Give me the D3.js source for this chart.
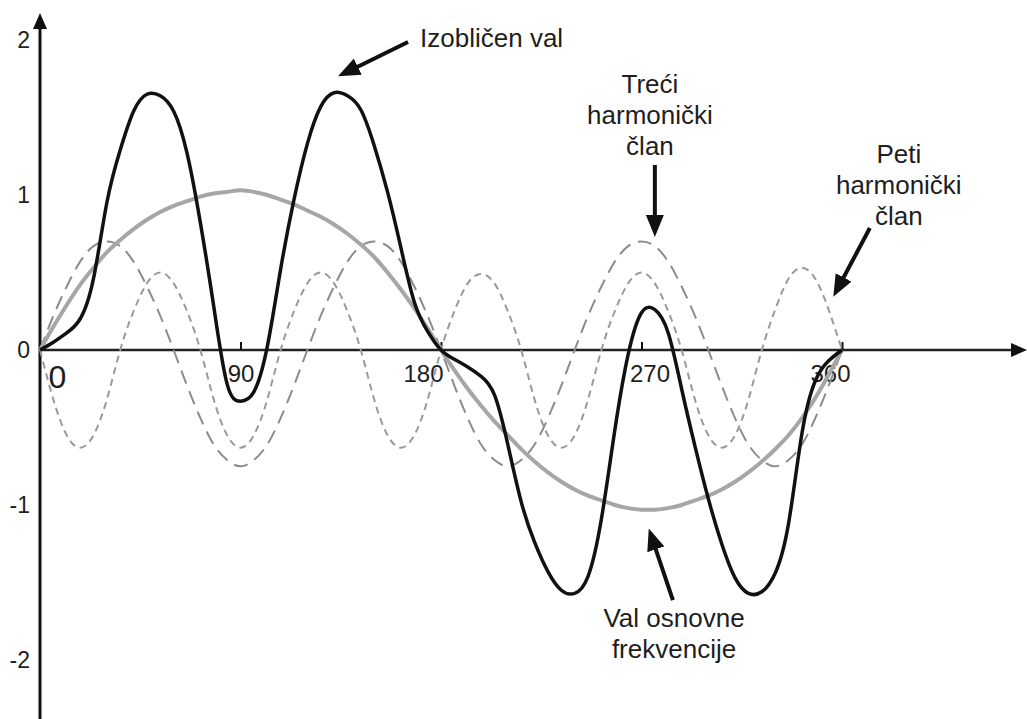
<!DOCTYPE html>
<html>
<head>
<meta charset="utf-8">
<script src="https://cdn.jsdelivr.net/npm/d3@7"></script>
<style>
  body { margin: 0; background: #fff; }
  text { font-family: "Liberation Sans", Arial, sans-serif; fill: #1e1e1e; }
</style>
</head>
<body>
<div id="chart"></div>
<script>
// angle in degrees, sampled every 6 deg
const degrees = d3.range(0, 361, 6);

// Val osnovne frekvencije (grey, solid)
const fundamental = [
  0, 0.15, 0.29, 0.42, 0.53, 0.63, 0.71, 0.78, 0.84, 0.89, 0.93,
  0.96, 0.99, 1.01, 1.02, 1.03, 1.02, 1.00, 0.97, 0.94, 0.90,
  0.86, 0.81, 0.75, 0.68, 0.60, 0.50, 0.39, 0.27, 0.14, 0,
  -0.13, -0.25, -0.36, -0.46, -0.55, -0.64, -0.72, -0.79, -0.85, -0.90,
  -0.94, -0.97, -1.00, -1.02, -1.03, -1.03, -1.02, -1.00, -0.97, -0.94,
  -0.90, -0.85, -0.79, -0.72, -0.64, -0.55, -0.44, -0.31, -0.16, 0
];

// Treci harmonicki clan (long dashes)
const thirdHarmonic = [
  0, 0.22, 0.41, 0.57, 0.67, 0.70, 0.67, 0.57, 0.41, 0.22, 0,
  -0.23, -0.44, -0.61, -0.71, -0.75, -0.71, -0.61, -0.44, -0.23, 0,
  0.22, 0.41, 0.57, 0.67, 0.70, 0.67, 0.57, 0.41, 0.22, 0,
  -0.23, -0.44, -0.61, -0.71, -0.75, -0.71, -0.61, -0.44, -0.23, 0,
  0.22, 0.41, 0.57, 0.67, 0.70, 0.67, 0.57, 0.41, 0.22, 0,
  -0.23, -0.44, -0.61, -0.71, -0.75, -0.71, -0.61, -0.44, -0.23, 0
];

// Peti harmonicki clan (short dashes)
const fifthHarmonic = [
  0, -0.32, -0.55, -0.63, -0.55, -0.32, 0, 0.25, 0.43, 0.50, 0.43,
  0.25, 0, -0.32, -0.55, -0.63, -0.55, -0.32, 0, 0.25, 0.43,
  0.50, 0.43, 0.25, 0, -0.32, -0.55, -0.63, -0.55, -0.32, 0,
  0.25, 0.43, 0.49, 0.43, 0.25, 0, -0.32, -0.55, -0.63, -0.55,
  -0.32, 0, 0.25, 0.43, 0.50, 0.43, 0.25, 0, -0.32, -0.55,
  -0.63, -0.55, -0.32, 0, 0.26, 0.46, 0.53, 0.46, 0.26, 0
];

// Izobliceni val (black)
const distorted = [
  0, 0.05, 0.11, 0.20, 0.46, 0.95, 1.29, 1.54, 1.65, 1.64, 1.54,
  1.27, 0.82, 0.28, -0.22, -0.33, -0.27, 0.02, 0.52, 0.97, 1.33,
  1.57, 1.66, 1.64, 1.55, 1.32, 1.02, 0.66, 0.31, 0.12, 0,
  -0.06, -0.11, -0.17, -0.29, -0.61, -0.98, -1.24, -1.43, -1.55, -1.57,
  -1.46, -1.09, -0.52, -0.03, 0.24, 0.26, 0.11, -0.25, -0.62, -0.96,
  -1.25, -1.47, -1.57, -1.56, -1.44, -1.12, -0.54, -0.20, -0.07, 0
];

const xTicks = [0, 90, 180, 270, 360];
const yTicks = [-2, -1, 0, 1, 2];

const width = 1027, height = 719;

const svg = d3.select('#chart').append('svg')
    .attr('width', width)
    .attr('height', height);

const x = d3.scaleLinear().domain([0, 360]).range([40, 842]);
const y = d3.scaleLinear().domain([-2, 2]).range([660, 40]);

// arrow head markers
const defs = svg.append('defs');
function addMarker(id, w, h) {
  defs.append('marker')
      .attr('id', id)
      .attr('viewBox', `0 0 ${w} ${h}`)
      .attr('markerUnits', 'userSpaceOnUse')
      .attr('markerWidth', w)
      .attr('markerHeight', h)
      .attr('refX', w - 10)
      .attr('refY', h / 2)
      .attr('orient', 'auto')
    .append('path')
      .attr('d', `M0,0L${w},${h / 2}L0,${h}Z`)
      .attr('fill', '#111');
}
addMarker('head', 22, 18);
addMarker('axisHead', 16, 14);

// axes lines
svg.append('line')
    .attr('x1', x(0)).attr('y1', height)
    .attr('x2', x(0)).attr('y2', 23)
    .attr('stroke', '#111').attr('stroke-width', 3)
    .attr('marker-end', 'url(#axisHead)');

svg.append('line')
    .attr('x1', x(0)).attr('y1', y(0))
    .attr('x2', 1017).attr('y2', y(0))
    .attr('stroke', '#222').attr('stroke-width', 2.5)
    .attr('marker-end', 'url(#axisHead)');

// x axis ticks and labels
const labelNudge = {0: 17, 90: 0, 180: -18, 270: 8, 360: -12};
const xAxis = d3.axisBottom(x)
    .tickValues(xTicks)
    .tickSize(-8)
    .tickPadding(15)
    .tickFormat(d3.format('d'));

const xAxisG = svg.append('g')
    .attr('transform', `translate(0,${y(0)})`)
    .call(xAxis);
xAxisG.select('.domain').remove();
xAxisG.selectAll('.tick line').attr('stroke', '#111').attr('stroke-width', 2)
    .filter(d => d === 0).remove();
xAxisG.selectAll('.tick text')
    .attr('fill', '#1e1e1e')
    .attr('font-family', '"Liberation Sans", Arial, sans-serif')
    .attr('font-size', d => d === 0 ? 32 : 24)
    .attr('dx', d => labelNudge[d]);

// y axis labels
const yAxis = d3.axisLeft(y)
    .tickValues(yTicks)
    .tickSize(0)
    .tickPadding(10)
    .tickFormat(d3.format('d'));

const yAxisG = svg.append('g')
    .attr('transform', `translate(${x(0)},0)`)
    .call(yAxis);
yAxisG.select('.domain').remove();
yAxisG.selectAll('.tick text')
    .attr('fill', '#1e1e1e')
    .attr('font-family', '"Liberation Sans", Arial, sans-serif')
    .attr('font-size', 23)
    .text(d => d < 0 ? '-' + Math.abs(d) : d);

// curves
const line = d3.line()
    .x((d, i) => x(degrees[i]))
    .y(d => y(d))
    .curve(d3.curveNatural);

const series = [
  {values: fifthHarmonic, stroke: '#9a9a9a', width: 2, dash: '7,5'},
  {values: thirdHarmonic, stroke: '#8c8c8c', width: 2, dash: '14,8'},
  {values: fundamental, stroke: '#a6a6a6', width: 4, dash: null},
  {values: distorted, stroke: '#111', width: 3.5, dash: null}
];

svg.selectAll('.wave')
    .data(series)
    .join('path')
    .attr('class', 'wave')
    .attr('d', d => line(d.values))
    .attr('fill', 'none')
    .attr('stroke', d => d.stroke)
    .attr('stroke-width', d => d.width)
    .attr('stroke-dasharray', d => d.dash)
    .attr('stroke-linejoin', 'round');

// annotations, placed in chart units (degrees, value)
const annotations = [
  {lines: ['Izobličen val'], at: [170.6, 1.955], anchor: 'start',
   arrow: [[165.2, 1.987], [137.8, 1.794]]},
  {lines: ['Treći', 'harmonički', 'član'], at: [273.8, 1.658], anchor: 'middle',
   arrow: [[276, 1.194], [276, 0.794]]},
  {lines: ['Peti', 'harmonički', 'član'], at: [385.5, 1.206], anchor: 'middle',
   arrow: [[372.5, 0.787], [358.2, 0.40]]},
  {lines: ['Val osnovne', 'frekvencije'], at: [284.6, -1.787], anchor: 'middle',
   arrow: [[284.1, -1.613], [274.7, -1.213]]}
];

annotations.forEach(a => {
  const t = svg.append('text')
      .attr('x', x(a.at[0]))
      .attr('y', y(a.at[1]))
      .attr('text-anchor', a.anchor)
      .attr('font-size', 26);
  t.selectAll('tspan')
      .data(a.lines)
      .join('tspan')
      .attr('x', x(a.at[0]))
      .attr('dy', (d, i) => i === 0 ? 0 : 31)
      .text(d => d);

  svg.append('line')
      .attr('x1', x(a.arrow[0][0])).attr('y1', y(a.arrow[0][1]))
      .attr('x2', x(a.arrow[1][0])).attr('y2', y(a.arrow[1][1]))
      .attr('stroke', '#111').attr('stroke-width', 4)
      .attr('marker-end', 'url(#head)');
});
</script>
</body>
</html>
